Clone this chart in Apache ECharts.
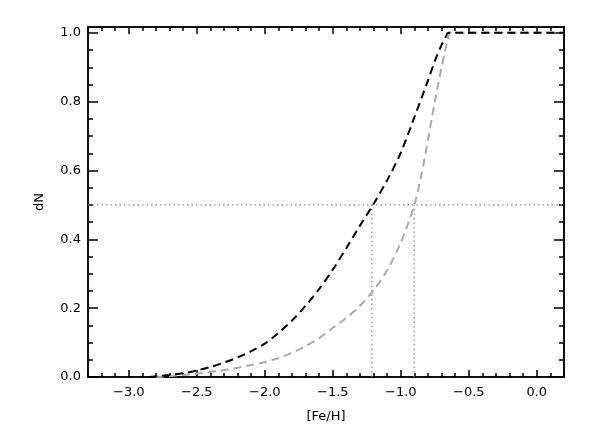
<!DOCTYPE html>
<html>
<head>
<meta charset="utf-8">
<script src="https://cdn.jsdelivr.net/npm/echarts@6/dist/echarts.min.js"></script>
<style>
  html, body { margin: 0; padding: 0; background: #fff; }
  #main { width: 591px; height: 432px; }
</style>
</head>
<body>
<div id="main"></div>
<script>
// 数据
var blackX = [-2.85, -2.7, -2.6, -2.5, -2.4, -2.3, -2.2, -2.1, -2.0, -1.9, -1.8, -1.7, -1.6, -1.5, -1.4, -1.3, -1.2, -1.1, -1.0, -0.9, -0.8, -0.75, -0.7, -0.67, -0.65, 0.2];
var blackY = [0.0, 0.006, 0.011, 0.019, 0.029, 0.042, 0.057, 0.075, 0.097, 0.128, 0.164, 0.207, 0.256, 0.312, 0.375, 0.44, 0.503, 0.572, 0.652, 0.755, 0.862, 0.918, 0.965, 0.988, 1.0, 1.0];
var grayX = [-2.8, -2.65, -2.5, -2.35, -2.2, -2.1, -2.0, -1.9, -1.8, -1.7, -1.6, -1.5, -1.4, -1.3, -1.2, -1.1, -1.0, -0.95, -0.9, -0.85, -0.8, -0.75, -0.7, -0.67, -0.65, -0.64, 0.2];
var grayY = [0.0, 0.004, 0.010, 0.017, 0.027, 0.035, 0.043, 0.055, 0.070, 0.090, 0.113, 0.143, 0.172, 0.207, 0.252, 0.31, 0.39, 0.442, 0.5, 0.585, 0.69, 0.80, 0.90, 0.955, 0.99, 1.0, 1.0];
var halfLevel = 0.5;
var medianBlack = -1.213;
var medianGray = -0.902;
var xMajor = [-3.0, -2.5, -2.0, -1.5, -1.0, -0.5, 0.0];
var xMinor = [-3.3, -3.2, -3.1, -2.9, -2.8, -2.7, -2.6, -2.4, -2.3, -2.2, -2.1, -1.9, -1.8, -1.7, -1.6, -1.4, -1.3, -1.2, -1.1, -0.9, -0.8, -0.7, -0.6, -0.4, -0.3, -0.2, -0.1, 0.1, 0.2];
var yMajor = [0.0, 0.2, 0.4, 0.6, 0.8, 1.0];
var yMinor = [0.05, 0.1, 0.15, 0.25, 0.3, 0.35, 0.45, 0.5, 0.55, 0.65, 0.7, 0.75, 0.85, 0.9, 0.95];

function zip(a, b) {
  var r = [];
  for (var i = 0; i < a.length; i++) r.push([a[i], b[i]]);
  return r;
}
function fmt(v) {
  var s = Math.abs(v).toFixed(1);
  return (v < -1e-9 ? '\u2212' : '') + s;
}

var font = 'DejaVu Sans';
var xMin = -3.3, xMax = 0.2, yMin = 0, yMax = 1.017;

function makeX(pos, vals, len, showLabel, name) {
  return {
    type: 'value', position: pos, min: xMin, max: xMax,
    name: name || '', nameLocation: 'middle', nameGap: 33,
    nameTextStyle: { color: '#000', fontSize: 13, fontFamily: font },
    axisLine: { show: true, onZero: false, lineStyle: { color: '#000', width: 1.5 } },
    axisTick: { show: true, inside: true, length: len, customValues: vals, lineStyle: { color: '#000', width: 1.5 } },
    axisLabel: { show: showLabel, customValues: vals, formatter: fmt, color: '#000', fontSize: 13, fontFamily: font, margin: 9 },
    splitLine: { show: false }
  };
}
function makeY(pos, vals, len, showLabel, name) {
  return {
    type: 'value', position: pos, min: yMin, max: yMax,
    name: name || '', nameLocation: 'middle', nameGap: 42,
    nameTextStyle: { color: '#000', fontSize: 13, fontFamily: font },
    axisLine: { show: true, onZero: false, lineStyle: { color: '#000', width: 1.5 } },
    axisTick: { show: true, inside: true, length: len, customValues: vals, lineStyle: { color: '#000', width: 1.5 } },
    axisLabel: { show: showLabel, customValues: vals, formatter: fmt, color: '#000', fontSize: 13, fontFamily: font, margin: 7 },
    splitLine: { show: false }
  };
}

var myChart = echarts.init(document.getElementById('main'), null, { renderer: 'canvas' });
var option = {
  backgroundColor: '#fff',
  animation: false,
  grid: { left: 88, right: 27, top: 27, bottom: 55 },
  xAxis: [
    makeX('bottom', xMajor, 7, true, '[Fe/H]'),
    makeX('bottom', xMinor, 4, false),
    makeX('top', xMajor, 7, false),
    makeX('top', xMinor, 4, false)
  ],
  yAxis: [
    makeY('left', yMajor, 10, true, 'dN'),
    makeY('left', yMinor, 5, false),
    makeY('right', yMajor, 10, false),
    makeY('right', yMinor, 5, false)
  ],
  series: [{
    type: 'line', name: 'half', showSymbol: false, silent: true,
    data: [[xMin, halfLevel], [xMax, halfLevel]],
    lineStyle: { color: '#888', width: 1.2, type: [1.5, 3] }
  }, {
    type: 'line', name: 'medBlack', showSymbol: false, silent: true,
    data: [[medianBlack, 0], [medianBlack, halfLevel]],
    lineStyle: { color: '#888', width: 1.2, type: [1.5, 3] }
  }, {
    type: 'line', name: 'medGray', showSymbol: false, silent: true,
    data: [[medianGray, 0], [medianGray, halfLevel]],
    lineStyle: { color: '#888', width: 1.2, type: [1.5, 3] }
  }, {
    type: 'line', name: 'gray', showSymbol: false, smooth: 0.3,
    data: zip(grayX, grayY),
    lineStyle: { color: '#aaaaaa', width: 2, type: [8, 5] }
  }, {
    type: 'line', name: 'black', showSymbol: false, smooth: 0.3,
    data: zip(blackX, blackY),
    lineStyle: { color: '#000', width: 2, type: [8, 5] }
  }]
};
myChart.setOption(option);
</script>
</body>
</html>
